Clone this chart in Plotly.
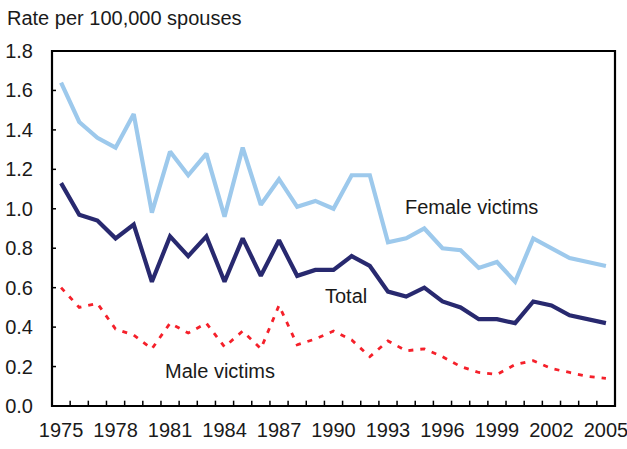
import plotly.graph_objects as go

years = list(range(1975, 2006))
female = [1.64, 1.44, 1.36, 1.31, 1.48, 0.98, 1.29, 1.17, 1.28, 0.96, 1.31, 1.02, 1.15, 1.01, 1.04,
          1.00, 1.17, 1.17, 0.83, 0.85, 0.90, 0.80, 0.79, 0.70, 0.73, 0.63, 0.85, 0.80, 0.75, 0.73, 0.71]
total = [1.13, 0.97, 0.94, 0.85, 0.92, 0.63, 0.86, 0.76, 0.86, 0.63, 0.85, 0.66, 0.84, 0.66, 0.69,
         0.69, 0.76, 0.71, 0.58, 0.555, 0.60, 0.53, 0.50, 0.44, 0.44, 0.42, 0.53, 0.51, 0.46, 0.44, 0.42]
male = [0.60, 0.50, 0.52, 0.39, 0.36, 0.29, 0.42, 0.37, 0.42, 0.30, 0.38, 0.29, 0.51, 0.31, 0.34,
        0.38, 0.335, 0.25, 0.33, 0.28, 0.29, 0.25, 0.20, 0.17, 0.16, 0.21, 0.23, 0.19, 0.17, 0.15, 0.14]
xtick_years = list(range(1975, 2006, 3))
ytick_vals = [0.0, 0.2, 0.4, 0.6, 0.8, 1.0, 1.2, 1.4, 1.6, 1.8]

FONT = "Liberation Sans, Arial, sans-serif"
TXT = "#1a1a1a"
XR = [years[0] - 0.5, years[-1] + 0.5]
YR = [ytick_vals[0], ytick_vals[-1]]

fig = go.Figure()
fig.add_trace(go.Scatter(x=years, y=female, mode="lines", line=dict(color="#9DC9EC", width=4.2),
                         showlegend=False, hoverinfo="skip"))
fig.add_trace(go.Scatter(x=years, y=total, mode="lines", line=dict(color="#28296F", width=4.2),
                         showlegend=False, hoverinfo="skip"))
fig.add_trace(go.Scatter(x=years, y=male, mode="lines", line=dict(color="#F5202A", width=2.8, dash="5px,7px"),
                         showlegend=False, hoverinfo="skip"))

# small inside tick marks at the boundaries between years (x) and at the y tick values
tx, ty = [], []
for y in years[:-1]:
    tx += [y + 0.5, y + 0.5, None]
    ty += [0, 0.027, None]
for v in ytick_vals[1:-1]:
    tx += [XR[0], XR[0] + 0.22, None]
    ty += [v, v, None]
fig.add_trace(go.Scatter(x=tx, y=ty, mode="lines", line=dict(color="black", width=1.5),
                         showlegend=False, hoverinfo="skip", cliponaxis=False))

# frame round the plot area
fig.add_shape(type="rect", xref="paper", yref="paper", x0=0, y0=0, x1=1, y1=1,
              line=dict(color="black", width=2.2), fillcolor="rgba(0,0,0,0)", layer="above")

fig.add_annotation(x=1993.85, y=1.01, xref="x", yref="y", text="Female victims", showarrow=False,
                   xanchor="left", yanchor="middle", font=dict(size=20, color=TXT, family=FONT))
fig.add_annotation(x=1989.4, y=0.56, xref="x", yref="y", text="Total", showarrow=False,
                   xanchor="left", yanchor="middle", font=dict(size=20, color=TXT, family=FONT))
fig.add_annotation(x=1980.6, y=0.18, xref="x", yref="y", text="Male victims", showarrow=False,
                   xanchor="left", yanchor="middle", font=dict(size=20, color=TXT, family=FONT))
fig.add_annotation(x=0, y=1, xref="paper", yref="paper", text="Rate per 100,000 spouses", showarrow=False,
                   xanchor="left", yanchor="bottom", xshift=-47, yshift=20,
                   font=dict(size=20, color=TXT, family=FONT))

fig.update_layout(
    width=627, height=449,
    margin=dict(l=52, r=12, t=51, b=43, autoexpand=False),
    plot_bgcolor="white", paper_bgcolor="white",
    font=dict(family=FONT, size=20, color=TXT),
    xaxis=dict(range=XR, tickmode="array", tickvals=xtick_years,
               ticks="outside", ticklen=6, tickcolor="rgba(0,0,0,0)",
               showgrid=False, zeroline=False, showline=False,
               automargin=False, ticklabeloverflow="allow"),
    yaxis=dict(range=YR, tickmode="array", tickvals=ytick_vals, tickformat=".1f",
               ticks="outside", ticklen=14, tickcolor="rgba(0,0,0,0)",
               showgrid=False, zeroline=False, showline=False,
               automargin=False, ticklabeloverflow="allow"),
)

fig.write_html("out.html", post_script="document.body.style.margin='0';",
               config={"displayModeBar": False})
